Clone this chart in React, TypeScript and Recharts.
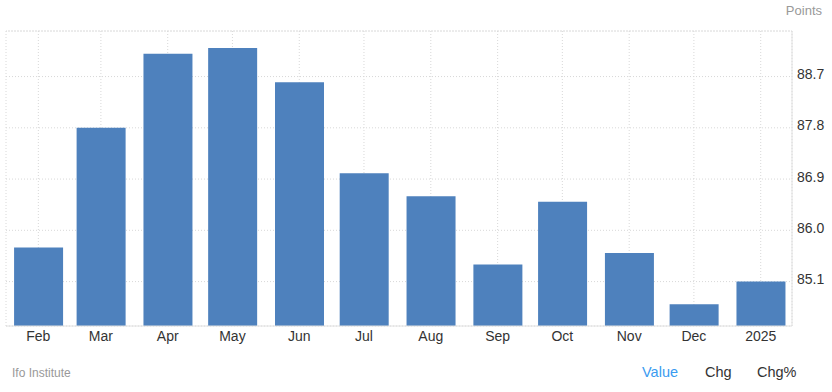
import { ComposedChart, Bar, XAxis, YAxis, CartesianGrid, ReferenceLine } from 'recharts'

const months = ['2024-02-01', '2024-03-01', '2024-04-01', '2024-05-01', '2024-06-01', '2024-07-01', '2024-08-01', '2024-09-01', '2024-10-01', '2024-11-01', '2024-12-01', '2025-01-01']
const monthLabels = ['Feb', 'Mar', 'Apr', 'May', 'Jun', 'Jul', 'Aug', 'Sep', 'Oct', 'Nov', 'Dec', '2025']
const values = [85.7, 87.8, 89.1, 89.2, 88.6, 87.0, 86.6, 85.4, 86.5, 85.6, 84.7, 85.1]
const yTicks = [85.1, 86.0, 86.9, 87.8, 88.7]

const DAY = 86400000
const times = months.map((m) => Date.parse(m))
const data = times.map((t, i) => ({ t, value: values[i] }))
const xDomain = [times[0] - 15 * DAY, times[times.length - 1] + 14.5 * DAY]
const yDomain = [84.32, 89.5]

const FONT = '"Liberation Sans", Arial, sans-serif'

const XTick = ({ x, y, payload }: any) => {
  const idx = times.indexOf(payload.value)
  return (
    <text x={x} y={y + 15} textAnchor="middle" fontSize={14} fill="#333" fontFamily={FONT}>
      {monthLabels[idx]}
    </text>
  )
}

const YTick = ({ x, y, payload }: any) => (
  <text x={x + 5} y={y + 2.5} textAnchor="start" fontSize={14} fill="#333" fontFamily={FONT}>
    {payload.value.toFixed(1)}
  </text>
)

export default function App() {
  return (
    <div style={{ position: 'relative', width: 832, height: 392, background: '#fff' }}>
      <style>{`body{margin:0}`}</style>
      <ComposedChart width={832} height={392} data={data} margin={{ top: 31, right: 0, bottom: 36, left: 6 }}>
        <CartesianGrid stroke="#d8d8d8" strokeDasharray="1 2" />
        <XAxis
          dataKey="t"
          type="number"
          domain={xDomain}
          ticks={times}
          interval={0}
          height={30}
          tickSize={0}
          tickMargin={0}
          tick={<XTick />}
          axisLine={{ stroke: '#e0e0e0' }}
          tickLine={false}
          allowDataOverflow
        />
        <YAxis
          orientation="right"
          width={40}
          domain={yDomain}
          ticks={yTicks}
          interval={0}
          tickSize={0}
          tickMargin={0}
          tick={<YTick />}
          axisLine={{ stroke: '#e0e0e0' }}
          tickLine={false}
          allowDataOverflow
        />
        <YAxis yAxisId="left" orientation="left" width={0} tick={false} tickLine={false} axisLine={{ stroke: '#e0e0e0' }} />
        <ReferenceLine y={yDomain[1]} stroke="#d8d8d8" strokeDasharray="1 2" />
        <Bar dataKey="value" fill="#4e81bd" barSize={49} isAnimationActive={false} />
      </ComposedChart>
      <svg width={832} height={392} style={{ position: 'absolute', left: 0, top: 0, pointerEvents: 'none' }}>
        <text x={822} y={15} textAnchor="end" fontSize={13} fill="#999" fontFamily={FONT}>Points</text>
        <text x={12} y={377} fontSize={12} fill="#999" fontFamily={FONT}>Ifo Institute</text>
        <text x={642} y={377} fontSize={14.5} fill="#3a9bf0" fontFamily={FONT}>Value</text>
        <text x={705} y={377} fontSize={14.5} fill="#333" fontFamily={FONT}>Chg</text>
        <text x={757} y={377} fontSize={14.5} fill="#333" fontFamily={FONT}>Chg%</text>
      </svg>
    </div>
  )
}
